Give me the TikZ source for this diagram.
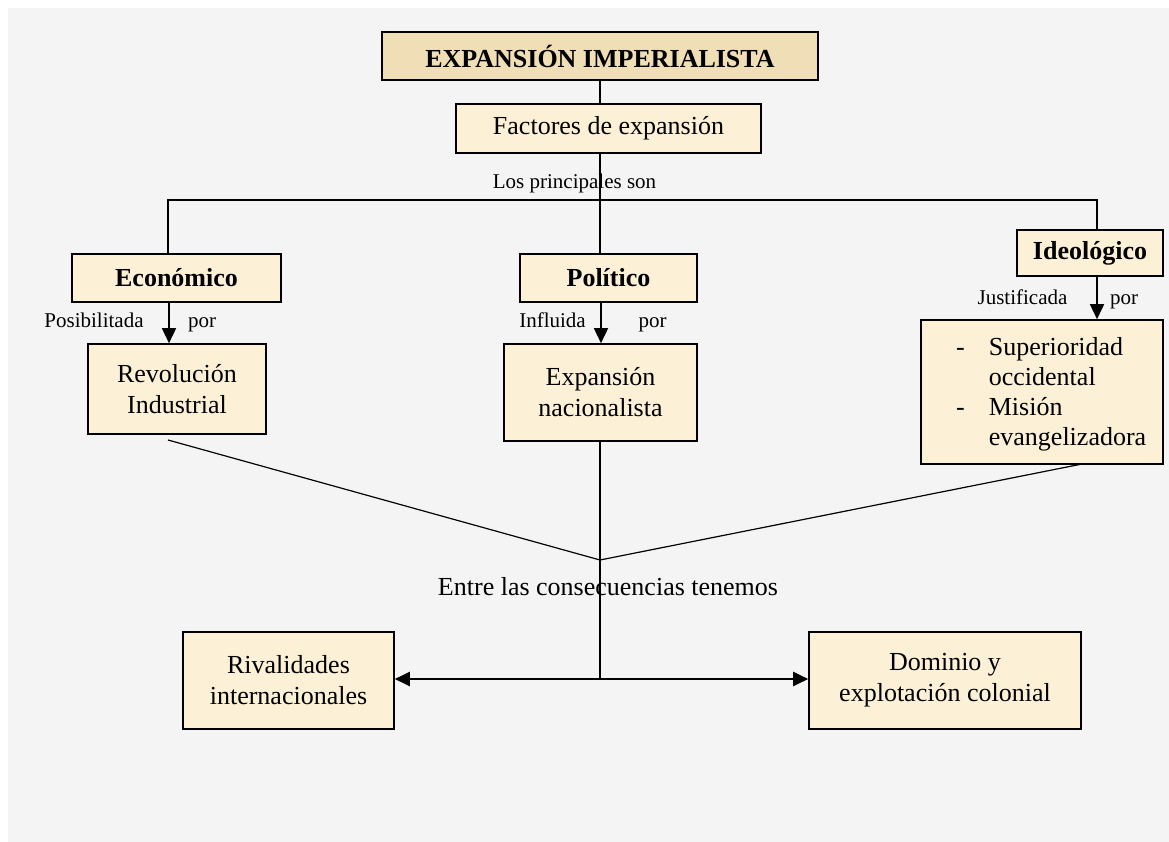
\documentclass[tikz,border=0pt]{standalone}
\usepackage{fontspec}
\setmainfont{Liberation Serif}
\usetikzlibrary{arrows.meta}
\definecolor{bggray}{RGB}{244,244,244}
\definecolor{boxfill}{RGB}{252,240,214}
\definecolor{titlefill}{RGB}{239,222,182}
\tikzset{
  box/.style={draw=black, line width=1.6pt, fill=boxfill, align=center, inner sep=0pt,
    font=\fontsize{26}{31}\selectfont},
  titlebox/.style={box, fill=titlefill, font=\fontsize{26}{31}\selectfont\bfseries},
  boldbox/.style={box, font=\fontsize{26}{31}\selectfont\bfseries},
  lbl/.style={inner sep=0pt, anchor=base, font=\fontsize{21}{25}\selectfont},
  biglbl/.style={inner sep=0pt, font=\fontsize{26}{31}\selectfont},
  conn/.style={line width=1.6pt},
  thin/.style={line width=1.2pt},
  arr/.style={line width=1.6pt, -{Triangle[length=15pt,width=14pt]}},
  harr/.style={line width=2.2pt, -{Triangle[length=15pt,width=14pt]}},
}
\begin{document}
\begin{tikzpicture}[x=1pt,y=-1pt]
\useasboundingbox (0,0) rectangle (1169,842);
\fill[bggray] (8,8) rectangle (1169,842);

% boxes
\node[titlebox, minimum width=436pt, minimum height=48pt] (title) at (600,56) {EXPANSIÓN IMPERIALISTA};
\node[box, minimum width=305pt, minimum height=49pt] (fact) at (608.5,128.5) {Factores de expansión};
\node[boldbox, minimum width=209pt, minimum height=48pt] (econ) at (176.5,278) {Económico};
\node[boldbox, minimum width=177pt, minimum height=48pt] (pol) at (608.5,278) {Político};
\node[boldbox, minimum width=146pt, minimum height=46pt] (ideo) at (1090,253) {Ideológico};
\node[box, minimum width=178pt, minimum height=90pt] (rev) at (177,389) {Revolución\\Industrial};
\node[box, minimum width=193pt, minimum height=97pt] (expn) at (600.5,392.5) {Expansión\\nacionalista};
\node[box, minimum width=242pt, minimum height=144pt] (ideoc) at (1042,392) {};
\node[biglbl, anchor=west] (ideotxt) at (956,394) {\fontsize{26}{30}\selectfont
  \begin{tabular}{@{}l@{\hspace{24pt}}l@{}}
  - & Superioridad\\
    & occidental\\
  - & Misión\\
    & evangelizadora
  \end{tabular}};
\node[box, minimum width=211pt, minimum height=97pt] (riv) at (288.5,680.5) {Rivalidades\\internacionales};
\node[box, minimum width=272pt, minimum height=97pt] (dom) at (945,680.5) {Dominio y\\explotación colonial};

% labels
\node[lbl] (lprin) at (574.5,189) {Los principales son};
\node[lbl] (lpos) at (94,327) {Posibilitada};
\node[lbl] (lpor1) at (202,327) {por};
\node[lbl] (linf) at (552.5,327) {Influida};
\node[lbl] (lpor2) at (652.5,327) {por};
\node[lbl] (ljus) at (1022.5,304) {Justificada};
\node[lbl] (lpor3) at (1124,304) {por};
\node[biglbl] (lcons) at (608,587) {Entre las consecuencias tenemos};

% coordinates
\coordinate (hl) at (168,200);
\coordinate (hr) at (1097,200);
\coordinate (meet) at (600,560);
\coordinate (split) at (600,679);
\coordinate (revend) at (168,440);
\coordinate (ideoend) at (1082,464);

% connectors
\draw[conn] (title.south -| 600,0) -- (fact.north -| 600,0);
\draw[conn] (fact.south -| 600,0) -- (pol.north -| 600,0);
\draw[conn] (econ.north -| hl) -- (hl) -- (hr) -- (ideo.north -| hr);
\draw[arr] (econ.south -| 169,0) -- (rev.north -| 169,0);
\draw[arr] (pol.south -| 601,0) -- (expn.north -| 601,0);
\draw[arr] (ideo.south -| 1097,0) -- (ideoc.north -| 1097,0);
\draw[thin] (revend) -- (meet) -- (ideoend);
\draw[thin] (expn.south -| meet) -- (split);
\draw[harr] (split) -- (riv.east |- split);
\draw[harr] (split) -- (dom.west |- split);
\end{tikzpicture}
\end{document}
